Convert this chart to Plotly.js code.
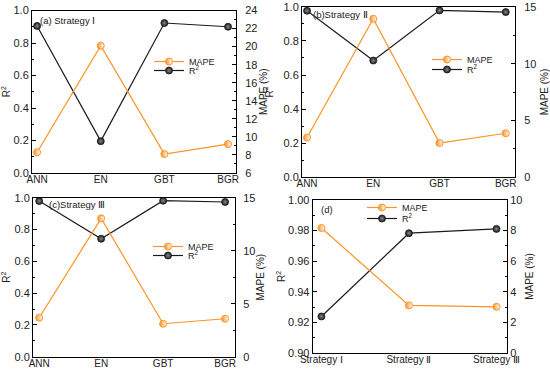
<!DOCTYPE html>
<html>
<head>
<meta charset="utf-8">
<script src="https://cdn.plot.ly/plotly-3.0.1.min.js"></script>
<style>html,body{margin:0;padding:0;background:#fff;}#chart{width:550px;height:370px;}</style>
</head>
<body>
<div id="chart"></div>
<script>
// ---- data ----
const models = ['ANN', 'EN', 'GBT', 'BGR'];
const strategies = ['Strategy Ⅰ', 'Strategy Ⅱ', 'Strategy Ⅲ'];
const mapeA = [8.3, 20.1, 8.1, 9.2];
const r2A = [0.905, 0.196, 0.923, 0.900];
const mapeB = [3.48, 13.96, 3.00, 3.86];
const r2B = [0.978, 0.685, 0.980, 0.970];
const mapeC = [3.68, 13.05, 3.11, 3.58];
const r2C = [0.979, 0.742, 0.981, 0.973];
const mapeD = [8.17, 3.11, 3.02];
const r2D = [0.9239, 0.9783, 0.9811];
const panelLabels = ['(a) Strategy Ⅰ', '(b)Strategy Ⅱ', '(c)Strategy Ⅲ', '(d)'];

const ORANGE = '#FF9224';
const BLACK = '#1a1a1a';
const FONT = 'Liberation Sans, Arial, sans-serif';

function mapeTrace(x, y, xa, ya, leg) {
  return {x: x, y: y, xaxis: xa, yaxis: ya, type: 'scatter', mode: 'lines+markers',
    name: 'MAPE', legend: leg,
    line: {color: ORANGE, width: 1.2},
    marker: {symbol: 'circle', size: 7, color: ORANGE,
      gradient: {type: 'horizontal', color: '#ffffff'},
      line: {color: ORANGE, width: 1}}};
}
function r2Trace(x, y, xa, ya, leg) {
  return {x: x, y: y, xaxis: xa, yaxis: ya, type: 'scatter', mode: 'lines+markers',
    name: 'R<sup>2</sup>', legend: leg,
    line: {color: BLACK, width: 1.2},
    marker: {symbol: 'circle', size: 7, color: BLACK,
      gradient: {type: 'radial', color: '#8a8a8a'},
      line: {color: BLACK, width: 0.8}}};
}

const data = [
  r2Trace(models, r2A, 'x', 'y', 'legend2'),
  mapeTrace(models, mapeA, 'x', 'y2', 'legend'),
  r2Trace(models, r2B, 'x2', 'y3', 'legend4'),
  mapeTrace(models, mapeB, 'x2', 'y4', 'legend3'),
  r2Trace(models, r2C, 'x3', 'y5', 'legend6'),
  mapeTrace(models, mapeC, 'x3', 'y6', 'legend5'),
  r2Trace(strategies, r2D, 'x4', 'y7', 'legend8'),
  mapeTrace(strategies, mapeD, 'x4', 'y8', 'legend7')
];

const tickFont = {family: FONT, size: 11, color: '#222'};
const titleFont = {family: FONT, size: 10, color: '#222'};

function xcat(dom, range, anchor) {
  return {domain: dom, range: range, anchor: anchor, type: 'category',
    showline: true, linecolor: '#000', linewidth: 1, mirror: true,
    ticks: '', showgrid: false, zeroline: false, tickfont: {family: FONT, size: 10, color: '#222'},
    ticklabelstandoff: -3, automargin: false, fixedrange: true};
}
function xminor(overlay, range, anchor) {
  return {overlaying: overlay, anchor: anchor, range: range, type: 'linear',
    dtick: 0.5, tick0: 0, ticks: 'inside', ticklen: 3, tickcolor: '#000',
    showticklabels: false, showline: false, showgrid: false, zeroline: false, fixedrange: true};
}
function yleft(dom, range, dtick, minor, fmt, anchor, standoff) {
  return {domain: dom, range: range, anchor: anchor, dtick: dtick, tick0: range[0],
    tickformat: fmt, ticks: 'inside', ticklen: 4, tickcolor: '#000',
    minor: {dtick: minor, ticks: 'inside', ticklen: 2, tickcolor: '#000'},
    showline: true, linecolor: '#000', linewidth: 1, showgrid: false, zeroline: false,
    tickfont: tickFont, title: {text: 'R<sup>2</sup>', font: titleFont, standoff: standoff},
    automargin: false, fixedrange: true};
}
function yright(overlay, range, dtick, minor, anchor, standoff, labelGap) {
  return {overlaying: overlay, side: 'right', anchor: anchor, range: range, dtick: dtick, tick0: range[0],
    ticks: 'inside', ticklen: 4, tickcolor: '#000', ticklabelstandoff: labelGap,
    minor: {dtick: minor, ticks: 'inside', ticklen: 2, tickcolor: '#000'},
    showline: true, linecolor: '#000', linewidth: 1, showgrid: false, zeroline: false,
    tickfont: tickFont, title: {text: 'MAPE (%)', font: titleFont, standoff: standoff},
    automargin: false, fixedrange: true};
}

const rA = [-0.08, 3.125], rB = [-0.076, 3.14], rC = [-0.10, 3.16], rD = [-0.10, 2.12];
const dA = [0.0582, 0.4291], dB = [0.5491, 0.9364], dC = [0.060, 0.4273], dD = [0.5685, 0.9218];
const vA = [0.5324, 0.9716], vB = [0.5216, 0.9811], vC = [0.0359, 0.4657], vD = [0.0459, 0.4595];

function legend(xpx, ypx) {
  return {x: xpx / 550, y: 1 - ypx / 370, xanchor: 'left', yanchor: 'top',
    bgcolor: 'rgba(0,0,0,0)', borderwidth: 0, tracegroupgap: 0,
    font: {family: FONT, size: 9, color: '#222'}, itemwidth: 30, traceorder: 'normal'};
}

const annFont = {family: FONT, size: 9.5, color: '#222'};

const layout = {
  width: 550, height: 370,
  margin: {l: 0, r: 0, t: 0, b: 0},
  paper_bgcolor: '#fff', plot_bgcolor: 'rgba(0,0,0,0)',
  font: {family: FONT, size: 11, color: '#222'},
  showlegend: true,
  xaxis: xcat(dA, rA, 'y'),
  xaxis2: xcat(dB, rB, 'y3'),
  xaxis3: xcat(dC, rC, 'y5'),
  xaxis4: xcat(dD, rD, 'y7'),
  xaxis5: xminor('x', rA, 'y'),
  xaxis6: xminor('x2', rB, 'y3'),
  xaxis7: xminor('x3', rC, 'y5'),
  xaxis8: xminor('x4', rD, 'y7'),
  yaxis: yleft(vA, [0, 1], 0.2, 0.1, '.1f', 'x', 8),
  yaxis2: yright('y', [6, 24], 2, 1, 'x', 3, 6),
  yaxis3: yleft(vB, [0, 1], 0.2, 0.1, '.1f', 'x2', 8),
  yaxis4: yright('y3', [0, 15], 5, 2.5, 'x2', 6, 6),
  yaxis5: yleft(vC, [0, 1], 0.2, 0.1, '.1f', 'x3', 8),
  yaxis6: yright('y5', [0, 15], 5, 2.5, 'x3', 0, 5),
  yaxis7: yleft(vD, [0.9, 1.0], 0.02, 0.01, '.2f', 'x4', 0),
  yaxis8: yright('y7', [0, 10], 2, 1, 'x4', 4, 0),
  legend: legend(149, 47),
  legend2: legend(149, 56),
  legend3: legend(427, 45),
  legend4: legend(427, 55),
  legend5: legend(148, 232),
  legend6: legend(148, 241),
  legend7: legend(362, 193),
  legend8: legend(362, 204),
  annotations: [
    {text: panelLabels[0], xref: 'paper', yref: 'paper', x: 38 / 550, y: 1 - 20 / 370, xanchor: 'left', yanchor: 'middle', showarrow: false, font: annFont},
    {text: panelLabels[1], xref: 'paper', yref: 'paper', x: 311 / 550, y: 1 - 14 / 370, xanchor: 'left', yanchor: 'middle', showarrow: false, font: annFont},
    {text: panelLabels[2], xref: 'paper', yref: 'paper', x: 47 / 550, y: 1 - 204 / 370, xanchor: 'left', yanchor: 'middle', showarrow: false, font: annFont},
    {text: panelLabels[3], xref: 'paper', yref: 'paper', x: 319 / 550, y: 1 - 209 / 370, xanchor: 'left', yanchor: 'middle', showarrow: false, font: annFont}
  ]
};

Plotly.newPlot('chart', data, layout, {staticPlot: true, displayModeBar: false});
</script>
</body>
</html>
